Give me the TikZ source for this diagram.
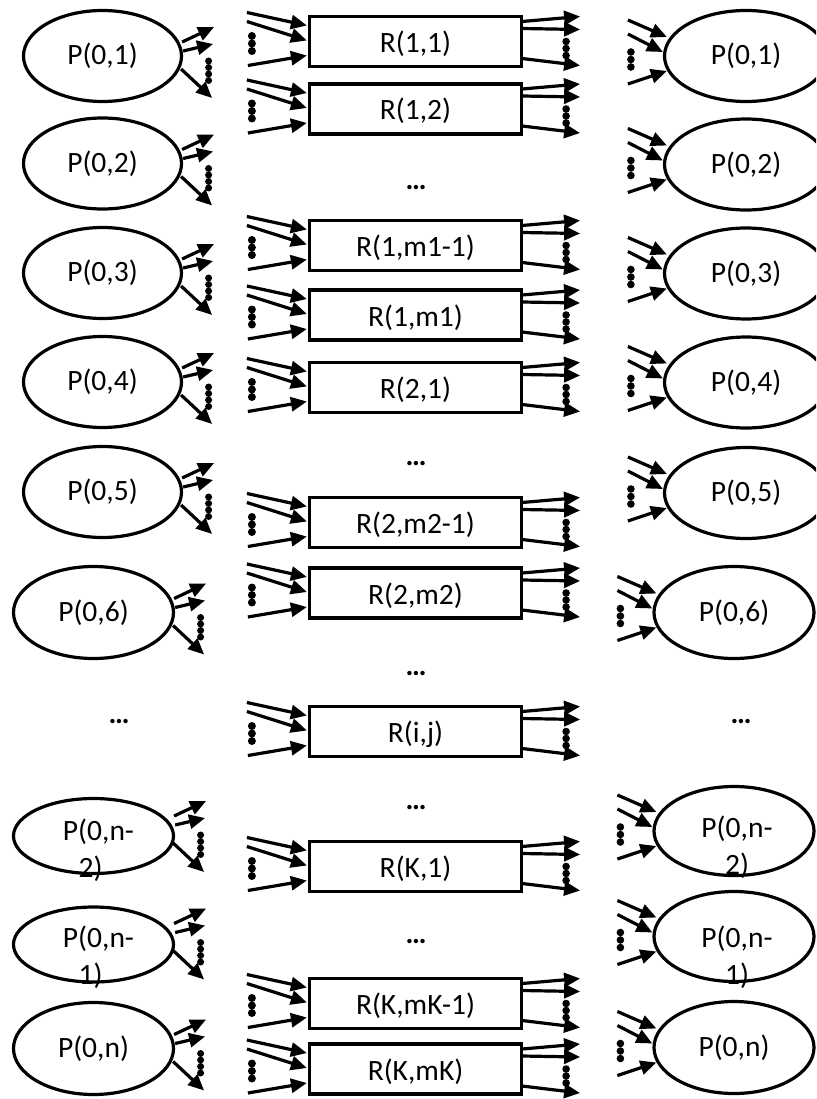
\documentclass[tikz,border=0pt]{standalone}
\usepackage{fontspec}
\setmainfont{Carlito}
\usetikzlibrary{shapes.geometric,arrows.meta,calc}
\newcommand\rfans[1]{%
  \draw[arr] ($(#1.west)+(-61,-29)$) -- ($(#1.west)+(-1,-16)$);
  \draw[arr] ($(#1.west)+(-61,-20)$) -- ($(#1.west)+(-1,-1)$);
  \draw[arr] ($(#1.west)+(-60,24)$) -- ($(#1.west)+(-1,14)$);
  \foreach \dd in {-5.5,2,9.5} \fill ($(#1.west)+(-56,\dd)$) circle[radius=4pt];
  \draw[arr] ($(#1.east)+(-1,-20)$) -- ($(#1.east)+(57,-25)$);
  \draw[arr] ($(#1.east)+(-1,-13)$) -- ($(#1.east)+(57,-12)$);
  \draw[arr] ($(#1.east)+(-1,17)$) -- ($(#1.east)+(57,24)$);
  \foreach \dd in {0,7,14} \fill ($(#1.east)+(43,\dd)$) circle[radius=3.8pt];
}
\newcommand\pout[2]{%
  \draw[arr] ($(#1.east)+(0,#2)+(-1,-14)$) -- ($(#1.east)+(0,#2)+(31,-29)$);
  \draw[arr] ($(#1.east)+(0,#2)+(0,-5)$) -- ($(#1.east)+(0,#2)+(30,-12)$);
  \draw[arr] ($(#1.east)+(0,#2)+(-2,13)$) -- ($(#1.east)+(0,#2)+(29,42)$);
  \foreach \dd in {5,11.5,18,24.5} \fill ($(#1.east)+(0,#2)+(25.5,\dd)$) circle[radius=3.5pt];
}
\newcommand\pin[2]{%
  \draw[arr] ($(#1.west)+(0,#2)+(-35,-36)$) -- ($(#1.west)+(0,#2)+(4,-19)$);
  \draw[arr] ($(#1.west)+(0,#2)+(-35,-22)$) -- ($(#1.west)+(0,#2)+(0,-4)$);
  \draw[arr] ($(#1.west)+(0,#2)+(-35,28)$) -- ($(#1.west)+(0,#2)+(4,15)$);
  \foreach \dd in {-4,3.5,11} \fill ($(#1.west)+(0,#2)+(-32,\dd)$) circle[radius=3.8pt];
}
\begin{document}
\begin{tikzpicture}[x=1pt,y=-1pt,
  arr/.style={line width=3.2pt,-{Triangle[length=16pt,width=14pt]}},
  pell/.style={draw,ellipse,line width=3.2pt,inner sep=0pt,font=\fontsize{29.5}{37}\selectfont,align=center},
  pellA/.style={pell,minimum width=158pt,minimum height=91pt},
  pellB/.style={pell,minimum width=160pt,minimum height=92pt},
  pellC/.style={pell,minimum width=160pt,minimum height=75pt},
  pellR/.style={pell,minimum width=163pt,minimum height=91pt},
  ptext/.style={inner sep=0pt,font=\fontsize{29.5}{37}\selectfont,align=center},
  rbox/.style={draw,rectangle,line width=3.2pt,inner sep=0pt,minimum width=212pt,minimum height=50pt,font=\fontsize{29.5}{35}\selectfont,text height=25pt,text depth=3pt},
  ell/.style={inner sep=0pt,anchor=base,font=\fontsize{29.5}{35}\bfseries\selectfont}
]
\clip (0,0) rectangle (816,1099);
% left column
\node[pellA] (l1) at (102.5,56) {P(0,1)};
\node[pellA] (l2) at (102.5,163.5) {P(0,2)};
\node[pellA] (l3) at (102.5,273) {P(0,3)};
\node[pellA] (l4) at (102.5,382) {P(0,4)};
\node[pellA] (l5) at (102.5,492) {P(0,5)};
\node[pellB] (l6) at (93.5,612.5) {P(0,6)};
\node[ell] (le) at (119,723.5) {…};
\node[pellC] (l7) at (93.5,836) {};
\node[ptext] (tl7) at (98.5,850) {P(0,n-\\2)\hspace*{16pt}};
\node[pellC] (l8) at (93.5,944.5) {};
\node[ptext] (tl8) at (98.5,957) {P(0,n-\\1)\hspace*{16pt}};
\node[pellB] (l9) at (93.5,1048.5) {P(0,n)};
% middle column
\node[rbox] (r11) at (415.5,41.5) {R(1,1)};
\node[rbox] (r12) at (415.5,109) {R(1,2)};
\node[ell] (me1) at (416,189.5) {…};
\node[rbox] (r1a) at (415.5,245.5) {R(1,m1-1)};
\node[rbox] (r1b) at (415.5,315) {R(1,m1)};
\node[rbox] (r21) at (415.5,387.5) {R(2,1)};
\node[ell] (me2) at (416,465.5) {…};
\node[rbox] (r2a) at (415.5,522.5) {R(2,m2-1)};
\node[rbox] (r2b) at (415.5,593) {R(2,m2)};
\node[ell] (me3) at (416,675.5) {…};
\node[rbox] (rij) at (415.5,731.5) {R(i,j)};
\node[ell] (me4) at (416,809.5) {…};
\node[rbox] (rk1) at (415.5,866.5) {R(K,1)};
\node[ell] (me5) at (416,943.5) {…};
\node[rbox] (rka) at (415.5,1003.5) {R(K,mK-1)};
\node[rbox] (rkb) at (415.5,1069) {R(K,mK)};
% right column
\node[pellR] (q1) at (746,56) {P(0,1)};
\node[pellR] (q2) at (746,164.5) {P(0,2)};
\node[pellR] (q3) at (746,273.5) {P(0,3)};
\node[pellR] (q4) at (746,382.5) {P(0,4)};
\node[pellR] (q5) at (746,493) {P(0,5)};
\node[pellB] (q6) at (734,612.5) {P(0,6)};
\node[ell] (qe) at (741,723.5) {…};
\node[pellB,minimum height=89pt] (q7) at (734,831) {};
\node[ptext] (tq7) at (737,847) {P(0,n-\\2)};
\node[pellB,minimum height=90pt] (q8) at (734,936.5) {};
\node[ptext] (tq8) at (737,957) {P(0,n-\\1)};
\node[pellB] (q9) at (734,1047.5) {P(0,n)};
% fans
\pout{l1}{0}\pout{l2}{0}\pout{l3}{0}\pout{l4}{0}\pout{l5}{0}\pout{l6}{0}
\pout{l7}{-6}\pout{l8}{-7}\pout{l9}{0}
\rfans{r11}\rfans{r12}\rfans{r1a}\rfans{r1b}\rfans{r21}\rfans{r2a}
\rfans{r2b}\rfans{rij}\rfans{rk1}\rfans{rka}\rfans{rkb}
\pin{q1}{0}\pin{q2}{0}\pin{q3}{0}\pin{q4}{0}\pin{q5}{0}\pin{q6}{0}
\pin{q7}{0}\pin{q8}{0}\pin{q9}{0}
\end{tikzpicture}
\end{document}
